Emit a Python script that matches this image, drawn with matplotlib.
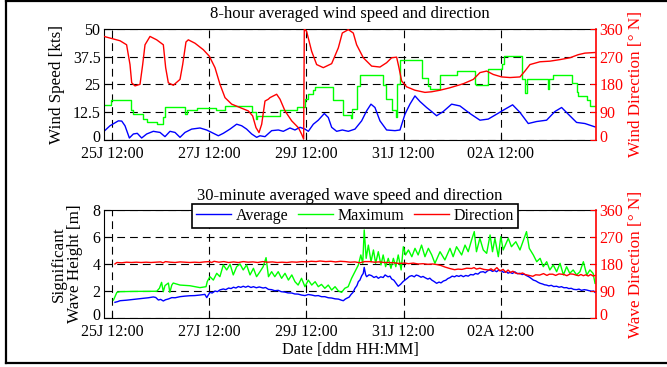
import matplotlib.pyplot as plt
from matplotlib.lines import Line2D
from matplotlib.transforms import ScaledTranslation

plt.rcParams['font.family'] = ['Liberation Serif', 'DejaVu Serif']
plt.rcParams['font.size'] = 11.5

# time axis: days since 25 Jul 00:00
tick_days = [0.5, 2.5, 4.5, 6.5, 8.5]
tick_labels = ['25J 12:00', '27J 12:00', '29J 12:00', '31J 12:00', '02A 12:00']
x_start, x_end = 0.335, 10.46

# ===== 8-hour averaged wind =====
wind_avg_t = [0.335, 0.459, 0.63, 0.70, 0.767, 0.857, 0.939, 1.02, 1.11, 1.213,
              1.35, 1.488, 1.59, 1.693, 1.796, 1.899, 2.002, 2.139, 2.31, 2.447,
              2.55, 2.688, 2.79, 2.928, 3.065, 3.168, 3.27, 3.374, 3.477, 3.545,
              3.648, 3.785, 3.922, 4.025, 4.162, 4.265, 4.368, 4.471, 4.54, 4.643,
              4.745, 4.869, 4.951, 5.02, 5.123, 5.24, 5.363, 5.50, 5.637, 5.74,
              5.829, 5.911, 6.014, 6.151, 6.323, 6.426, 6.529, 6.631, 6.734, 6.837,
              6.974, 7.077, 7.18, 7.317, 7.489, 7.66, 7.866, 8.072, 8.243, 8.415,
              8.552, 8.744, 8.895, 9.066, 9.238, 9.443, 9.615, 9.752, 9.889, 10.06,
              10.232, 10.438]
wind_avg = [3.9, 6.4, 8.6, 8.5, 6.4, 0.9, 2.7, 3.0, 0.9, 2.7,
            3.9, 3.4, 1.5, 3.9, 3.4, 1.2, 3.4, 4.9, 5.4, 4.5,
            3.4, 1.9, 3.0, 4.9, 7.1, 6.4, 4.9, 2.7, 1.2, 1.9,
            1.5, 4.2, 4.5, 3.9, 5.4, 4.5, 5.7, 4.9, 3.9, 7.1,
            8.9, 11.9, 10.1, 5.7, 3.9, 4.5, 3.9, 4.9, 8.6, 13.1,
            16.1, 14.6, 8.6, 4.5, 4.2, 4.5, 11.6, 16.1, 19.8, 17.3,
            14.6, 12.8, 10.9, 12.8, 16.1, 15.3, 11.9, 8.9, 9.4, 11.6,
            13.4, 15.8, 12.4, 7.4, 8.3, 8.9, 12.8, 14.6, 11.6, 7.9,
            7.4, 5.9]

wind_max_t = [0.335, 0.47, 0.885, 0.94, 1.13, 1.21, 1.43, 1.555, 1.59, 2.00,
              2.04, 2.24, 2.64, 2.825, 3.375, 3.46, 3.49, 3.96, 4.30, 4.47,
              4.525, 4.64, 4.675, 5.05, 5.26, 5.42, 5.445, 5.535, 5.60, 6.08,
              6.13, 6.255, 6.345, 6.37, 6.425, 6.87, 7.01, 7.04, 7.25, 7.59,
              7.97, 8.00, 8.24, 8.52, 8.565, 8.93, 9.00, 9.04, 9.48, 9.50,
              9.58, 9.96, 10.06, 10.09, 10.27, 10.33, 10.46]
wind_max = [15.8, 17.9, 13.4, 11.6, 9.6, 8.2, 7.4, 10.5, 14.9, 11.6,
            13.4, 14.3, 13.4, 15.3, 12.4, 9.4, 10.9, 13.4, 14.9, 18.3,
            20.8, 22.6, 24.0, 17.9, 11.3, 9.8, 13.8, 24.2, 29.0, 24.5,
            18.2, 13.7, 10.4, 25.3, 36.0, 28.0, 24.1, 23.0, 29.1, 31.2,
            25.3, 24.5, 32.1, 34.0, 37.6, 27.2, 21.3, 27.5, 23.0, 27.5,
            29.1, 25.7, 21.6, 19.8, 18.0, 15.3, 15.3]

wind_dir_t = [0.335, 0.665, 0.80, 0.87, 0.905, 0.973, 1.076, 1.131, 1.179, 1.282,
              1.419, 1.556, 1.604, 1.659, 1.762, 1.899, 1.954, 2.022, 2.07, 2.208,
              2.379, 2.503, 2.619, 2.722, 2.825, 2.962, 3.134, 3.305, 3.394, 3.463,
              3.525, 3.58, 3.648, 3.717, 3.751, 3.888, 3.957, 4.06, 4.197, 4.334,
              4.402, 4.444, 4.457, 4.505, 4.608, 4.711, 4.848, 5.02, 5.157, 5.239,
              5.363, 5.465, 5.534, 5.671, 5.843, 6.014, 6.151, 6.254, 6.357, 6.405,
              6.46, 6.563, 6.734, 6.94, 7.077, 7.249, 7.455, 7.729, 7.935, 8.072,
              8.209, 8.346, 8.518, 8.689, 8.895, 8.998, 9.101, 9.306, 9.512, 9.718,
              9.924, 10.095, 10.232, 10.438]
wind_dir = [335, 321, 308, 244, 185, 175, 180, 244, 308, 335,
            324, 308, 234, 185, 177, 196, 244, 317, 324, 313,
            292, 271, 234, 180, 137, 116, 105, 94, 78, 40,
            24, 51, 126, 132, 137, 148, 132, 94, 62, 40,
            19, 3, 360, 351, 287, 244, 234, 247, 298, 346,
            357, 346, 308, 266, 239, 236, 250, 266, 268, 234,
            191, 172, 161, 154, 156, 161, 169, 182, 196, 218,
            223, 212, 204, 202, 204, 223, 244, 253, 255, 260,
            266, 276, 281, 283]

# ===== 30-minute averaged waves =====
wave_avg_t = [0.56, 0.62, 0.665, 0.80, 0.94, 1.05, 1.145, 1.25, 1.35, 1.40,
              1.455, 1.50, 1.556, 1.60, 1.66, 1.73, 1.80, 1.90, 2.0, 2.105,
              2.2, 2.31, 2.41, 2.45, 2.48, 2.515, 2.56, 2.62, 2.67, 2.72,
              2.79, 2.84, 2.90, 2.95, 3.0, 3.05, 3.10, 3.15, 3.20, 3.25,
              3.30, 3.36, 3.41, 3.47, 3.53, 3.61, 3.66, 3.72, 3.785, 3.85,
              3.92, 3.98, 4.06, 4.12, 4.20, 4.26, 4.33, 4.40, 4.47, 4.54,
              4.61, 4.68, 4.745, 4.81, 4.88, 4.95, 5.02, 5.09, 5.16, 5.22,
              5.26, 5.30, 5.33, 5.38, 5.42, 5.46, 5.50, 5.54, 5.57, 5.60,
              5.64, 5.67, 5.69, 5.72, 5.74, 5.79, 5.84, 5.89, 5.94, 5.98,
              6.03, 6.08, 6.12, 6.18, 6.22, 6.255, 6.30, 6.35, 6.39, 6.44,
              6.49, 6.53, 6.58, 6.62, 6.67, 6.72, 6.76, 6.80, 6.86, 6.90,
              6.94, 7.00, 7.04, 7.08, 7.13, 7.18, 7.23, 7.27, 7.32, 7.37,
              7.41, 7.455, 7.50, 7.55, 7.59, 7.64, 7.68, 7.73, 7.78, 7.83,
              7.88, 7.935, 7.98, 8.03, 8.08, 8.14, 8.18, 8.23, 8.28, 8.33,
              8.37, 8.415, 8.46, 8.52, 8.56, 8.61, 8.65, 8.69, 8.74, 8.79,
              8.84, 8.895, 8.94, 8.98, 9.03, 9.08, 9.12, 9.17, 9.22, 9.27,
              9.31, 9.36, 9.40, 9.44, 9.49, 9.54, 9.59, 9.65, 9.70, 9.75,
              9.80, 9.855, 9.90, 9.95, 10.00, 10.06, 10.11, 10.16, 10.22, 10.27,
              10.32, 10.37, 10.41, 10.44]
wave_avg = [1.16, 1.22, 1.28, 1.32, 1.38, 1.42, 1.46, 1.50, 1.56, 1.52,
            1.33, 1.38, 1.26, 1.35, 1.41, 1.51, 1.50, 1.58, 1.62, 1.65,
            1.66, 1.70, 1.75, 1.51, 1.70, 1.90, 1.85, 2.0, 1.95, 2.08,
            2.15, 2.10, 2.22, 2.18, 2.28, 2.22, 2.33, 2.27, 2.35, 2.28,
            2.36, 2.26, 2.32, 2.24, 2.30, 2.22, 2.26, 2.12, 2.10, 2.02,
            2.05, 1.95, 1.92, 1.86, 1.85, 1.78, 1.77, 1.70, 1.66, 1.74,
            1.70, 1.64, 1.66, 1.58, 1.58, 1.50, 1.48, 1.42, 1.40, 1.32,
            1.28, 1.40, 1.46, 1.55, 1.75, 1.90, 2.2, 2.4, 2.7, 2.8,
            3.14, 3.3, 3.75, 3.2, 3.06, 3.2, 3.14, 3.0, 3.08, 2.94,
            3.05, 3.0, 3.19, 3.05, 3.1, 2.89, 2.8, 2.55, 2.35, 2.5,
            2.7, 2.81, 2.95, 3.08, 3.14, 3.05, 3.18, 3.14, 3.02, 3.08,
            2.99, 2.88, 2.95, 2.81, 2.70, 2.57, 2.66, 2.60, 2.74, 2.80,
            2.92, 2.99, 3.10, 3.05, 3.14, 3.08, 3.16, 3.06, 3.15, 3.10,
            3.22, 3.19, 3.30, 3.25, 3.40, 3.43, 3.35, 3.50, 3.56, 3.45,
            3.52, 3.43, 3.55, 3.48, 3.38, 3.45, 3.32, 3.38, 3.30, 3.42,
            3.28, 3.31, 3.22, 3.25, 3.14, 3.05, 2.95, 2.81, 2.75, 2.64,
            2.57, 2.52, 2.46, 2.44, 2.38, 2.42, 2.33, 2.35, 2.28, 2.32,
            2.24, 2.25, 2.18, 2.20, 2.12, 2.10, 2.14, 2.05, 2.10, 2.07,
            2.02, 1.98, 2.0, 1.9]

wave_max_t = [0.53, 0.60, 0.665, 0.94, 1.21, 1.42, 1.475, 1.52, 1.555, 1.59,
              1.66, 1.69, 1.73, 1.76, 1.90, 2.105, 2.31, 2.435, 2.46, 2.515,
              2.585, 2.655, 2.72, 2.79, 2.86, 2.93, 2.995, 3.065, 3.135, 3.20,
              3.27, 3.34, 3.41, 3.475, 3.545, 3.61, 3.67, 3.72, 3.785, 3.85,
              3.92, 3.99, 4.06, 4.13, 4.20, 4.265, 4.33, 4.40, 4.47, 4.54,
              4.61, 4.68, 4.745, 4.81, 4.88, 4.95, 5.02, 5.09, 5.16, 5.225,
              5.29, 5.36, 5.43, 5.50, 5.57, 5.62, 5.66, 5.69, 5.73, 5.775,
              5.83, 5.88, 5.925, 5.98, 6.035, 6.08, 6.13, 6.185, 6.24, 6.29,
              6.34, 6.39, 6.45, 6.495, 6.54, 6.60, 6.67, 6.735, 6.80, 6.87,
              6.94, 7.01, 7.08, 7.145, 7.25, 7.35, 7.455, 7.52, 7.59, 7.695,
              7.765, 7.83, 7.90, 7.955, 8.00, 8.07, 8.14, 8.21, 8.28, 8.33,
              8.38, 8.45, 8.50, 8.55, 8.655, 8.72, 8.81, 8.895, 8.98, 9.03,
              9.087, 9.17, 9.24, 9.31, 9.375, 9.445, 9.51, 9.58, 9.65, 9.72,
              9.79, 9.855, 9.92, 9.99, 10.06, 10.13, 10.20, 10.27, 10.335, 10.40,
              10.44]
wave_max = [1.33, 1.9, 1.95, 1.97, 1.98, 1.98, 2.2, 2.64, 1.95, 2.4,
            2.59, 1.9, 2.44, 2.59, 2.44, 2.39, 2.25, 2.32, 2.7, 3.06,
            2.81, 3.31, 3.06, 3.93, 3.56, 3.98, 3.19, 3.8, 4.0, 3.56,
            3.93, 3.19, 3.68, 3.06, 3.43, 3.8, 4.47, 3.06, 3.43, 3.06,
            3.43, 2.94, 3.31, 2.81, 3.19, 2.69, 2.44, 2.94, 2.32, 2.81,
            2.44, 2.69, 2.32, 2.49, 2.2, 2.44, 2.07, 2.32, 2.0, 1.9,
            2.2, 2.32, 2.94, 3.43, 3.93, 4.67, 4.05, 6.52, 4.42, 5.4,
            4.17, 5.04, 4.05, 4.91, 3.93, 4.67, 3.8, 4.42, 3.68, 4.42,
            3.8, 4.67, 3.56, 5.28, 4.67, 5.04, 4.54, 5.16, 4.67, 5.4,
            4.54, 5.16, 4.67, 4.05, 4.91, 4.3, 5.16, 4.54, 5.28, 4.67,
            5.4, 4.91, 5.78, 6.4, 4.91, 5.9, 5.04, 4.79, 6.15, 4.91,
            5.9, 4.54, 6.02, 5.04, 5.9, 5.28, 5.65, 5.04, 5.9, 6.4,
            5.16, 4.67, 4.17, 4.42, 3.8, 4.17, 3.56, 3.93, 3.43, 4.05,
            3.19, 3.8, 3.31, 3.56, 3.19, 3.43, 4.17, 3.19, 3.56, 3.31,
            2.57]

wave_dir_t = [0.56, 0.60, 0.70, 0.80, 0.90, 1.0, 1.1, 1.2, 1.3, 1.4,
              1.5, 1.55, 1.6, 1.7, 1.8, 1.9, 2.0, 2.1, 2.2, 2.3,
              2.4, 2.5, 2.55, 2.6, 2.7, 2.8, 2.9, 3.0, 3.1, 3.2,
              3.3, 3.4, 3.5, 3.6, 3.7, 3.8, 3.9, 4.0, 4.1, 4.2,
              4.3, 4.4, 4.5, 4.6, 4.7, 4.78, 4.9, 5.0, 5.1, 5.2,
              5.3, 5.4, 5.5, 5.6, 5.7, 5.81, 5.9, 6.0, 6.1, 6.2,
              6.3, 6.4, 6.53, 6.6, 6.7, 6.8, 6.9, 7.0, 7.1, 7.19,
              7.27, 7.35, 7.45, 7.55, 7.62, 7.7, 7.8, 7.9, 7.95, 8.0,
              8.07, 8.15, 8.25, 8.3, 8.35, 8.42, 8.48, 8.55, 8.6, 8.65,
              8.7, 8.75, 8.8, 8.89, 8.95, 9.0, 9.08, 9.16, 9.22, 9.3,
              9.38, 9.45, 9.5, 9.57, 9.63, 9.7, 9.8, 9.86, 9.93, 9.99,
              10.05, 10.1, 10.15, 10.2, 10.25, 10.3, 10.35, 10.4, 10.44]
wave_dir = [180, 185, 184, 186, 185, 186, 185, 186, 185, 186,
            187, 184, 188, 186, 185, 187, 186, 185, 186, 185,
            187, 188, 185, 189, 186, 188, 185, 187, 185, 188,
            186, 187, 185, 188, 186, 187, 185, 186, 185, 187,
            186, 188, 187, 189, 188, 190, 188, 189, 187, 189,
            188, 186, 187, 184, 188, 188, 186, 187, 185, 185,
            184, 182, 183, 181, 183, 180, 181, 179, 180, 178,
            175, 170, 165, 161, 163, 162, 166, 165, 168, 163,
            166, 162, 160, 164, 158, 168, 157, 162, 152, 160,
            152, 156, 150, 147, 150, 145, 142, 139, 144, 143,
            148, 142, 146, 146, 142, 147, 145, 141, 147, 146,
            143, 141, 145, 141, 144, 140, 145, 140, 142]

grid_style = dict(color='k', linestyle=(0, (7, 4.5)), linewidth=0.8)
lw = 1.0
blue, green, red = '#0000ff', '#00ff00', '#ff0000'
label_size = 12.3


def style_axes(ax, axr):
    ax.set_xlim(x_start, x_end)
    ax.set_xticks(tick_days)
    ax.set_xticklabels(tick_labels)
    ax.tick_params(direction='in', length=4, pad=4)
    ax.tick_params(axis='y', pad=2.5)
    ax.grid(True, **grid_style)
    ax.set_axisbelow(True)
    ax.spines['right'].set_visible(False)
    axr.set_ylim(0, 360)
    axr.set_yticks([0, 90, 180, 270, 360])
    axr.tick_params(direction='in', length=4, pad=2.5, colors='red')
    axr.spines['right'].set_color('red')
    axr.spines['right'].set_linewidth(1.2)
    for s in ['left', 'top', 'bottom']:
        axr.spines[s].set_visible(False)


def lift_zero_labels(fig, ax, axr):
    # nudge the two "0" labels up so they clear the date labels
    shift = ScaledTranslation(0, 4 / 100, fig.dpi_scale_trans)
    for a in (ax, axr):
        lab = a.get_yticklabels()[0]
        lab.set_transform(lab.get_transform() + shift)


fig = plt.figure(figsize=(6.67, 3.67), dpi=100)

# ===== Wind panel =====
ax1 = fig.add_axes([104 / 667, 1 - 140 / 367, 492 / 667, 111.3 / 367])
ax1r = ax1.twinx()
ax1.plot(wind_avg_t, wind_avg, color=blue, lw=lw)
ax1.step(wind_max_t, wind_max, where='post', color=green, lw=lw)
ax1r.plot(wind_dir_t, wind_dir, color=red, lw=lw)
ax1.set_ylim(0, 50)
ax1.set_yticks([0, 12.5, 25, 37.5, 50])
ax1.set_yticklabels(['0', '12.5', '25', '37.5', '50'])
style_axes(ax1, ax1r)
ax1.set_ylabel('Wind Speed [kts]', fontsize=label_size)
ax1.yaxis.set_label_coords(-0.079, 0.5)
ax1r.set_ylabel('Wind Direction [° N]', color='red', fontsize=label_size)
ax1r.yaxis.set_label_coords(1.065, 0.5)
ax1.set_title('8-hour averaged wind speed and direction', fontsize=12, pad=8)

# ===== Wave panel =====
ax2 = fig.add_axes([104 / 667, 1 - 318 / 367, 492 / 667, 108 / 367])
ax2r = ax2.twinx()
ax2.plot(wave_avg_t, wave_avg, color=blue, lw=lw)
ax2.plot(wave_max_t, wave_max, color=green, lw=lw)
ax2r.plot(wave_dir_t, wave_dir, color=red, lw=lw)
ax2.set_ylim(0, 8)
ax2.set_yticks([0, 2, 4, 6, 8])
style_axes(ax2, ax2r)
ax2.set_ylabel('Significant\nWave Height [m]', linespacing=1.0, fontsize=label_size)
ax2.yaxis.set_label_coords(-0.043, 0.5)
ax2r.set_ylabel('Wave Direction [° N]', color='red', fontsize=label_size)
ax2r.yaxis.set_label_coords(1.065, 0.5)
ax2.set_xlabel('Date [ddm HH:MM]', labelpad=2, fontsize=11.8)
ax2.set_title('30-minute averaged wave speed and direction', fontsize=12, pad=7)

lift_zero_labels(fig, ax1, ax1r)
lift_zero_labels(fig, ax2, ax2r)

handles = [Line2D([], [], color=blue, lw=lw),
           Line2D([], [], color=green, lw=lw),
           Line2D([], [], color=red, lw=lw)]
leg = ax2r.legend(handles, ['Average', 'Maximum', 'Direction'], ncol=3,
                  loc='upper center', bbox_to_anchor=(0.51, 1.056),
                  fancybox=False, framealpha=1, edgecolor='k',
                  borderpad=0.25, borderaxespad=0, handlelength=2.2,
                  handletextpad=0.3, columnspacing=0.6)
leg.get_frame().set_linewidth(1.2)

# outer frame
for xs, ys in [([6 / 667, 6 / 667], [1 - 1 / 367, 1 - 363 / 367]),
               ([6 / 667, 1.0], [1 - 1 / 367, 1 - 1 / 367]),
               ([6 / 667, 1.0], [1 - 363 / 367, 1 - 363 / 367])]:
    fig.add_artist(Line2D(xs, ys, transform=fig.transFigure, color='k', lw=1.6))

fig.savefig('out.png', dpi=100)
